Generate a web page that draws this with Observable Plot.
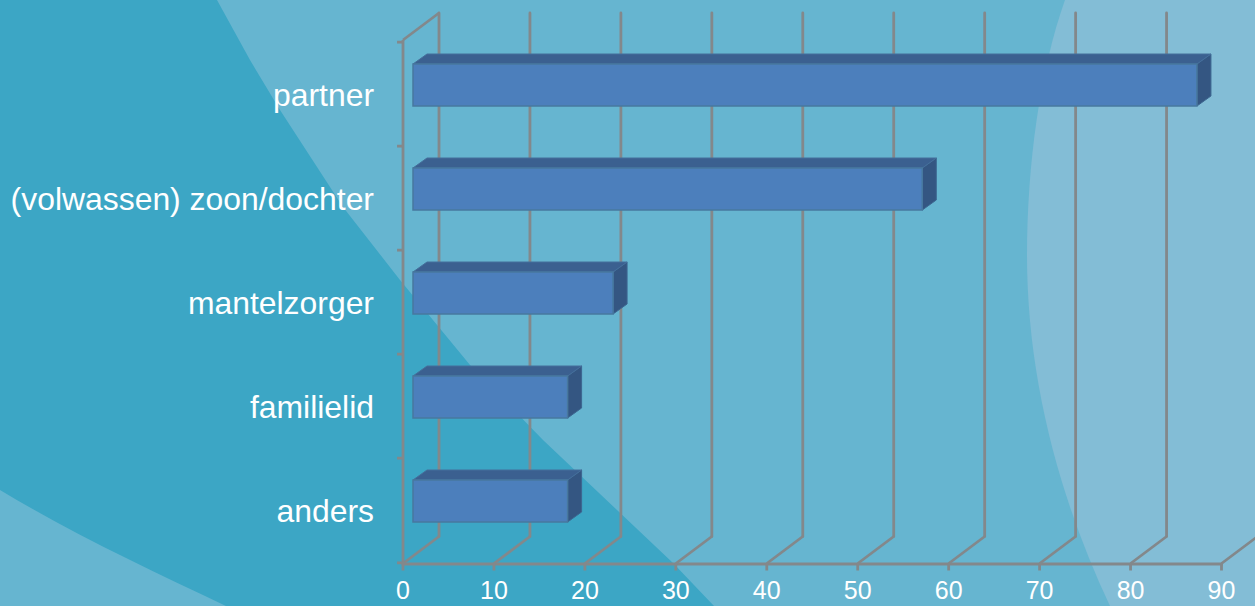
<!DOCTYPE html>
<html><head><meta charset="utf-8">
<script src="https://cdn.jsdelivr.net/npm/d3@7"></script>
<script src="https://cdn.jsdelivr.net/npm/@observablehq/plot@0.6"></script>
<style>
html,body{margin:0;padding:0;width:1255px;height:606px;overflow:hidden;background:#3ca6c5}
#bg{position:absolute;left:0;top:0}
#chart{position:absolute;left:0;top:0}
#chart svg{background:transparent;font-family:"Liberation Sans",Arial,sans-serif}
</style></head><body>
<svg id="bg" width="1255" height="606" viewBox="0 0 1255 606">
<rect width="1255" height="606" fill="#3ca6c5"/>
<path d="M217 0 L250 60 L280 110 L343 207 L400 280 L470 365 L543 440 L673 563 L714 606 L1255 606 L1255 0Z" fill="#66b5d0"/>
<path d="M0 490 C75 535 150 570 226 606 L0 606Z" fill="#66b5d0"/>
<path d="M1065 0 C1040 70 1027 165 1027 255 C1027 380 1060 500 1110 606 L1255 606 L1255 0Z" fill="#83bdd6"/>
</svg>
<div id="chart"></div>
<script>
const categories = ["partner","(volwassen) zoon/dochter","mantelzorger","familielid","anders"];
const values = [86.2,56,22,17,17];
const xTicks = [0,10,20,30,40,50,60,70,80,90];

const gridColor = "#83888b";
const gridWidth = 2.8;
const textColor = "#ffffff";
const wallDx = 36, wallDy = -27;     // depth of the chart's floor
const barShiftX = 10.5, barShiftY = -9;   // bars float inside that depth
const barDx = 14, barDy = -10;       // depth of the bars
const bandStep = 104.7;
const rows = categories.map((name,i)=>({name,value:values[i]}));

// replaces each rule with the slanted floor line that starts at its foot
function floorLine(index, scales, vals, dims, ctx, next){
  const g = next(index, scales, vals, dims, ctx);
  const bottom = dims.height - dims.marginBottom;
  d3.select(g).selectAll("line").data(index).each(function(i){
    d3.select(this).attr("x1",vals.x[i]).attr("x2",vals.x[i]+wallDx)
      .attr("y1",bottom).attr("y2",bottom+wallDy);
  });
  return g;
}
// adds the top and side faces of each bar, from the bar's own scaled rectangle
function barDepth(index, scales, vals, dims, ctx, next){
  const g = next(index, scales, vals, dims, ctx);
  const sel = d3.select(g);
  const step = scales.y.bandwidth();
  for (const i of index){
    const x1 = scales.x(0), x2 = scales.x(rows[i].value), y1 = scales.y(rows[i].name), y2 = y1 + step;
    sel.insert("polygon",":first-child")
      .attr("points",[[x1,y1],[x2,y1],[x2+barDx,y1+barDy],[x1+barDx,y1+barDy]].join(" "))
      .attr("fill","#3b6090").attr("stroke","#456f9b").attr("stroke-width",1);
    sel.insert("polygon",":first-child")
      .attr("points",[[x2,y1],[x2+barDx,y1+barDy],[x2+barDx,y2+barDy],[x2,y2]].join(" "))
      .attr("fill","#345682").attr("stroke","#3d6690").attr("stroke-width",1);
  }
  return g;
}

const plot = Plot.plot({
  width:1255, height:606,
  marginTop:40, marginBottom:42.5, marginLeft:402.5, marginRight:34,
  style:{background:"transparent",overflow:"hidden"},
  x:{domain:[0,90]},
  y:{domain:categories,paddingInner:0.6,paddingOuter:0.3},
  marks:[
    Plot.ruleX(xTicks,{stroke:gridColor,strokeWidth:gridWidth,dx:wallDx,dy:wallDy,strokeLinecap:"round"}),
    Plot.ruleX(xTicks,{stroke:gridColor,strokeWidth:gridWidth,render:floorLine}),
    Plot.ruleX([0],{stroke:gridColor,strokeWidth:gridWidth,render(index,scales,vals,dims,ctx,next){
      const g=next(index,scales,vals,dims,ctx);
      d3.select(g).selectAll("line").attr("x1",vals.x[0]).attr("x2",vals.x[0]+wallDx)
        .attr("y1",dims.marginTop).attr("y2",dims.marginTop+wallDy);
      return g;
    }}),
    Plot.ruleX([0],{stroke:gridColor,strokeWidth:gridWidth}),
    Plot.frame({anchor:"bottom",stroke:gridColor,strokeWidth:gridWidth}),
    Plot.ruleY(categories,{x1:-0.6,x2:0,dy:-bandStep/2,stroke:gridColor,strokeWidth:gridWidth}),
    Plot.ruleY(categories.slice(-1),{x1:-0.6,x2:0,dy:bandStep/2,stroke:gridColor,strokeWidth:gridWidth}),
    Plot.barX(rows,{x1:()=>0,x2:"value",y:"name",dx:barShiftX,dy:barShiftY,fill:"#4c7fbc",stroke:"#47789f",strokeWidth:1.5,render:barDepth}),
    Plot.axisX(xTicks,{anchor:"bottom",label:null,tickSize:7,tickPadding:10,stroke:gridColor,strokeWidth:gridWidth,fill:textColor,fontSize:25}),
    Plot.axisY(categories,{anchor:"left",label:null,tickSize:0,tickPadding:29,fill:textColor,fontSize:31.9,dy:1})
  ]
});
document.getElementById("chart").appendChild(plot);
</script>
</body></html>
